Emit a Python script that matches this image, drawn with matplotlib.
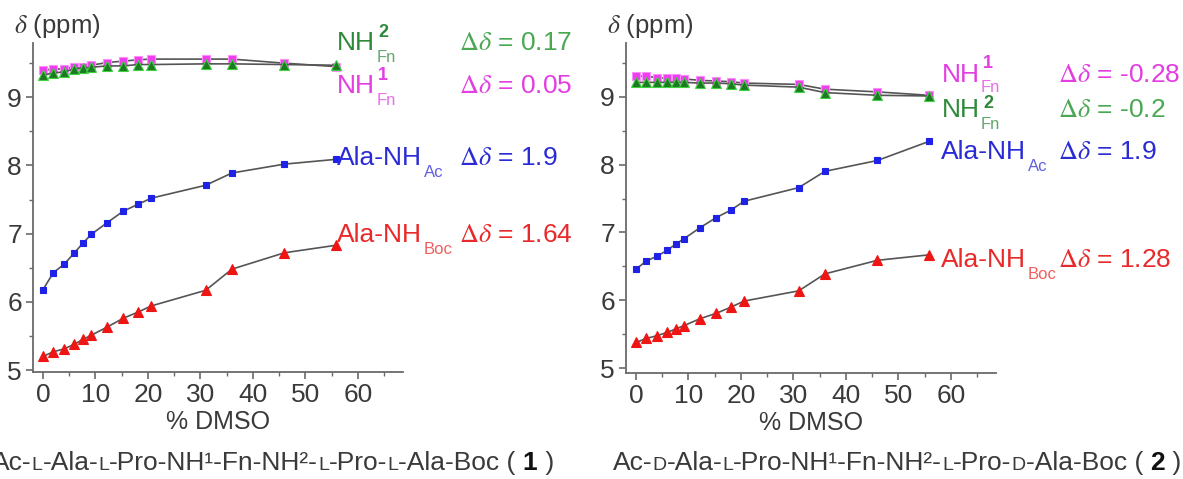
import matplotlib
matplotlib.use("Agg")
import matplotlib.pyplot as plt
from matplotlib.offsetbox import TextArea, HPacker, AnnotationBbox

# ---------------- data ----------------
dmso_pct = [0, 2, 4, 6, 7.6, 9.2, 12.2, 15.3, 18.1, 20.6, 31, 36, 46, 55.8]

# compound 1
c1_nh2_fn = [9.32, 9.36, 9.37, 9.42, 9.43, 9.44, 9.46, 9.46, 9.48, 9.48, 9.49, 9.49, 9.48, 9.47]
c1_nh1_fn = [9.40, 9.41, 9.42, 9.44, 9.45, 9.47, 9.51, 9.53, 9.55, 9.56, 9.56, 9.56, 9.50, 9.45]
c1_ala_ac = [6.18, 6.43, 6.55, 6.72, 6.86, 6.99, 7.16, 7.33, 7.43, 7.52, 7.71, 7.89, 8.02, 8.09]
c1_ala_boc = [5.20, 5.27, 5.31, 5.38, 5.45, 5.51, 5.63, 5.76, 5.85, 5.94, 6.17, 6.48, 6.72, 6.83]

# compound 2
c2_nh1_fn = [9.30, 9.30, 9.28, 9.27, 9.27, 9.26, 9.24, 9.23, 9.22, 9.20, 9.18, 9.11, 9.07, 9.02]
c2_nh2_fn = [9.21, 9.21, 9.21, 9.21, 9.21, 9.21, 9.20, 9.20, 9.19, 9.17, 9.14, 9.06, 9.02, 9.01]
c2_ala_ac = [6.46, 6.58, 6.65, 6.74, 6.83, 6.91, 7.07, 7.22, 7.33, 7.46, 7.66, 7.90, 8.06, 8.34]
c2_ala_boc = [5.38, 5.44, 5.48, 5.53, 5.58, 5.63, 5.73, 5.81, 5.90, 5.99, 6.14, 6.39, 6.59, 6.67]

c1_deltas = {"nh2": "0.17", "nh1": "0.05", "ac": "1.9", "boc": "1.64"}
c2_deltas = {"nh1": "-0.28", "nh2": "-0.2", "ac": "1.9", "boc": "1.28"}

x_ticks = [0, 10, 20, 30, 40, 50, 60]
y_ticks = [5, 6, 7, 8, 9]

# ---------------- style ----------------
plt.rcParams['font.family'] = ['Liberation Sans', 'DejaVu Sans']
plt.rcParams['mathtext.fontset'] = 'custom'
plt.rcParams['mathtext.rm'] = 'Liberation Sans'
plt.rcParams['mathtext.it'] = 'STIXGeneral:italic'
plt.rcParams['mathtext.bf'] = 'Liberation Sans:bold'
plt.rcParams['mathtext.sf'] = 'STIXGeneral'

TICK_SIZE = 19

GRAY_LINE = '#555555'
AXIS_COL = '#6a6a6a'
TXT_COL = '#3a3a3a'

GREEN_FACE, GREEN_EDGE = '#1c7a22', '#3fd040'
MAG_FACE, MAG_EDGE = '#ee3cee', '#ff8cff'
BLUE = '#1e22e6'
RED = '#ee1515'

GREEN_T1, GREEN_T2 = '#2e8a3a', '#4aa852'
MAG_T = '#e23ee2'
BLUE_T = '#2b2bd6'
RED_T = '#e82a2a'

W, H = 1183, 479
fig = plt.figure(figsize=(W / 100, H / 100), dpi=100)


def make_axes(left_px, right_px, bottom_px, top_px, xlim, ylim):
    ax = fig.add_axes([left_px / W, 1 - bottom_px / H,
                       (right_px - left_px) / W, (bottom_px - top_px) / H])
    ax.set_xlim(*xlim)
    ax.set_ylim(*ylim)
    for s in ['top', 'right']:
        ax.spines[s].set_visible(False)
    for s in ['left', 'bottom']:
        ax.spines[s].set_color(AXIS_COL)
        ax.spines[s].set_linewidth(1.3)
    ax.set_xticks(x_ticks)
    ax.set_yticks(y_ticks)
    ax.set_xticks([5, 15, 25, 35, 45, 55, 65], minor=True)
    ax.set_yticks([5.5, 6.5, 7.5, 8.5, 9.5], minor=True)
    ax.tick_params(which='major', direction='out', length=5, width=1.2,
                   color=AXIS_COL, labelcolor=TXT_COL, pad=3,
                   labelsize=TICK_SIZE)
    ax.tick_params(which='minor', direction='out', length=3, width=1.0,
                   color=AXIS_COL)
    ax.set_xlabel('% DMSO', fontsize=18, color=TXT_COL, labelpad=2)
    ax.patch.set_alpha(0)
    return ax


def series(ax, y, marker, face, edge, ms):
    ax.plot(dmso_pct, y, color=GRAY_LINE, lw=1.2, marker=marker,
            mfc=face, mec=edge, mew=0.8, ms=ms, zorder=3, clip_on=False)


LBL = 19
SUB = 12
SUP = 13


def label(ax, x, y, main, color, sub, sup=None, sub_dy=-4.8, sup_dy=13.2):
    t = ax.text(x, y, main, color=color, fontsize=LBL, va='baseline')
    ax.annotate(sub, xy=(1, 0), xycoords=t, xytext=(1.2, sub_dy),
                textcoords='offset points', fontsize=SUB, color=color,
                alpha=0.75, va='baseline', ha='left')
    if sup is not None:
        ax.annotate(sup, xy=(1, 0), xycoords=t, xytext=(2.5, sup_dy),
                    textcoords='offset points', fontsize=SUP, fontweight='bold',
                    color=color, va='baseline', ha='left')


def dd(ax, x, y, v, color):
    ax.text(x, y, r'$\mathsf{\Delta}\delta$ = ' + v, color=color,
            fontsize=LBL, va='baseline')


# ---------- left panel ----------
ax1 = make_axes(33, 403, 372, 43, (-1.9, 68.6), (4.972, 9.796))
series(ax1, c1_ala_boc, '^', RED, RED, 7.5)
series(ax1, c1_ala_ac, 's', BLUE, BLUE, 4.3)
series(ax1, c1_nh1_fn, 's', MAG_FACE, MAG_EDGE, 5.5)
series(ax1, c1_nh2_fn, '^', GREEN_FACE, GREEN_EDGE, 6.5)

fig.text(14 / W, 1 - 33 / H, r'$\delta$ (ppm)', fontsize=18.5, color=TXT_COL, va='baseline')

xl, xd = 56.0, 79.2
label(ax1, xl, 9.69, 'NH', GREEN_T1, 'Fn', '2')
dd(ax1, xd, 9.69, c1_deltas['nh2'], GREEN_T2)
label(ax1, xl, 9.06, 'NH', MAG_T, 'Fn', '1')
dd(ax1, xd, 9.06, c1_deltas['nh1'], MAG_T)
label(ax1, xl, 8.0, 'Ala-NH', BLUE_T, 'Ac')
dd(ax1, xd, 8.0, c1_deltas['ac'], BLUE_T)
label(ax1, xl, 6.88, 'Ala-NH', RED_T, 'Boc')
dd(ax1, xd, 6.88, c1_deltas['boc'], RED_T)

# ---------- right panel ----------
ax2 = make_axes(626, 996, 372.7, 43, (-1.9, 68.6), (4.935, 9.79))
series(ax2, c2_ala_boc, '^', RED, RED, 7.5)
series(ax2, c2_ala_ac, 's', BLUE, BLUE, 4.3)
series(ax2, c2_nh1_fn, 's', MAG_FACE, MAG_EDGE, 5.5)
series(ax2, c2_nh2_fn, '^', GREEN_FACE, GREEN_EDGE, 6.5)

fig.text(607 / W, 1 - 33 / H, r'$\delta$ (ppm)', fontsize=18.5, color=TXT_COL, va='baseline')

xl2, xd2 = 58.2, 80.4
label(ax2, xl2, 9.22, 'NH', MAG_T, 'Fn', '1', sub_dy=-3.8)
dd(ax2, xd2, 9.22, c2_deltas['nh1'], MAG_T)
label(ax2, xl2, 8.70, 'NH', GREEN_T1, 'Fn', '2', sup_dy=10.0)
dd(ax2, xd2, 8.70, c2_deltas['nh2'], GREEN_T2)
label(ax2, xl2, 8.08, 'Ala-NH', BLUE_T, 'Ac')
dd(ax2, xd2, 8.08, c2_deltas['ac'], BLUE_T)
label(ax2, xl2, 6.49, 'Ala-NH', RED_T, 'Boc')
dd(ax2, xd2, 6.49, c2_deltas['boc'], RED_T)

# ---------- captions ----------
CAP = 19
SC = 14


def caption(parts, x_px, y_px):
    boxes = []
    for text, size, weight, col in parts:
        boxes.append(TextArea(text, textprops=dict(fontsize=size, fontweight=weight,
                                                   color=col, family='Liberation Sans')))
    pack = HPacker(children=boxes, align='baseline', pad=0, sep=0)
    ab = AnnotationBbox(pack, (x_px, y_px), xycoords='figure pixels',
                        box_alignment=(0, 0.5), frameon=False, pad=0)
    fig.add_artist(ab)


N = 'normal'
B = 'bold'
C = TXT_COL
cap1 = [("Ac-", CAP, N, C), ("L", SC, N, C), ("-Ala-", CAP, N, C), ("L", SC, N, C),
        ("-Pro-NH\u00b9-Fn-NH\u00b2-", CAP, N, C), ("L", SC, N, C), ("-Pro-", CAP, N, C),
        ("L", SC, N, C), ("-Ala-Boc ( ", CAP, N, C), ("1", CAP, B, '#111111'), (" )", CAP, N, C)]
cap2 = [("Ac-", CAP, N, C), ("D", SC, N, C), ("-Ala-", CAP, N, C), ("L", SC, N, C),
        ("-Pro-NH\u00b9-Fn-NH\u00b2-", CAP, N, C), ("L", SC, N, C), ("-Pro-", CAP, N, C),
        ("D", SC, N, C), ("-Ala-Boc ( ", CAP, N, C), ("2", CAP, B, '#111111'), (" )", CAP, N, C)]
caption(cap1, -8, H - 463)
caption(cap2, 613, H - 463)

fig.savefig('out.png', dpi=100)
